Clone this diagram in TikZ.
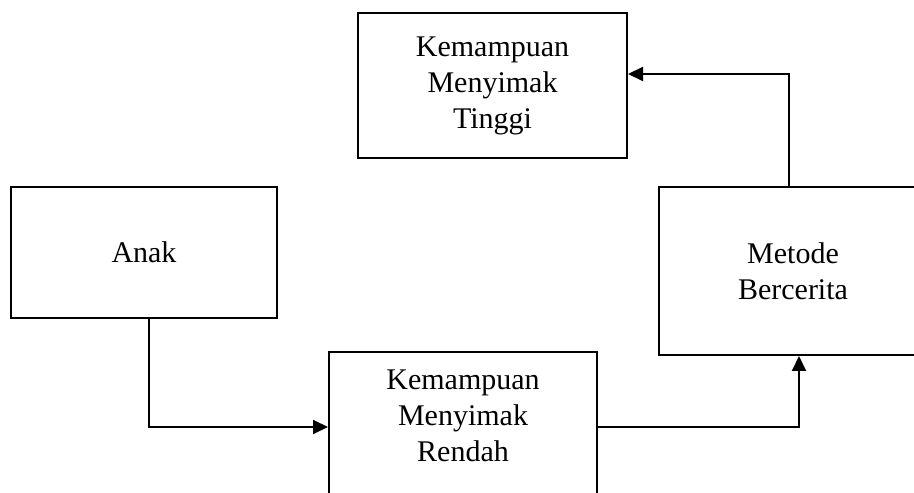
\documentclass[tikz,border=0pt]{standalone}
\usepackage{fontspec}
\setmainfont{Liberation Serif}
\usetikzlibrary{arrows.meta}
\begin{document}
\begin{tikzpicture}[x=1pt,y=1pt,
  box/.style={draw,line width=2pt,rectangle,align=center,inner sep=0pt,
    font=\fontsize{30}{36}\selectfont},
  conn/.style={line width=2pt,-{Triangle[length=15pt,width=14pt]}}]
  \useasboundingbox (0,0) rectangle (914,493);
  \clip (0,0) rectangle (914,493);
  % boxes
  \node[box,minimum width=269pt,minimum height=145pt] (tinggi) at (492.5,407.5)
    {Kemampuan\\Menyimak\\Tinggi};
  \node[box,minimum width=266pt,minimum height=131pt] (anak) at (144,240.5) {Anak};
  \node[box,minimum width=268pt,minimum height=168pt] (metode) at (793,222)
    {Metode\\Bercerita};
  % the lower box runs off the bottom edge; its text sits near its top
  \node[box,minimum width=268pt,anchor=north,text height=110pt,text depth=100pt]
    (rendah) at (463,142) {Kemampuan\\Menyimak\\Rendah};
  % levels of the horizontal runs
  \coordinate (low) at (0,66);
  \coordinate (high) at (0,419);
  % connectors
  \draw[conn] ([xshift=5pt]anak.south) |- (rendah.west |- low);
  \draw[conn] (rendah.east |- low) -| ([xshift=6pt]metode.south);
  \draw[conn] ([xshift=-4pt]metode.north) |- (tinggi.east |- high);
\end{tikzpicture}
\end{document}
